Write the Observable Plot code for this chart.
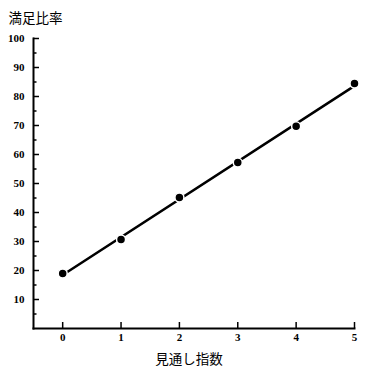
<!DOCTYPE html>
<html>
<head>
<meta charset="utf-8">
<script src="https://cdn.jsdelivr.net/npm/d3@7"></script>
<script src="https://cdn.jsdelivr.net/npm/@observablehq/plot@0.6"></script>
<style>
  html, body { margin: 0; padding: 0; background: #fff; }
</style>
</head>
<body>
<div id="chart"></div>
<script>
const xValues = [0, 1, 2, 3, 4, 5];
const yValues = [19.0, 30.7, 45.2, 57.2, 69.7, 84.5];
const xTicks = [0, 1, 2, 3, 4, 5];
const yTicks = [10, 20, 30, 40, 50, 60, 70, 80, 90, 100];
const yMinorTicks = [5, 15, 25, 35, 45, 55, 65, 75, 85, 95];
const xTitle = "見通し指数";
const yTitle = "満足比率";

const data = xValues.map((x, i) => ({x, y: yValues[i]}));
const tickFont = {fontFamily: "Liberation Serif", fontWeight: "bold", fontSize: 11};

const chart = Plot.plot({
  width: 381,
  height: 383,
  marginLeft: 33,
  marginRight: 27,
  marginTop: 38,
  marginBottom: 55,
  style: {background: "#fff", color: "#000"},
  x: {domain: [-0.5, 5]},
  y: {domain: [0, 100]},
  marks: [
    Plot.frame({anchor: "left", strokeWidth: 2}),
    Plot.frame({anchor: "bottom", strokeWidth: 2}),
    Plot.axisY({ticks: yTicks, tickSize: -6, text: null, label: null, strokeWidth: 1.5}),
    Plot.axisY({ticks: yMinorTicks, tickSize: -3.5, text: null, label: null, strokeWidth: 1.5}),
    Plot.axisY({ticks: yTicks, tickSize: 0, tickPadding: 9, label: null, ...tickFont}),
    Plot.axisX({ticks: xTicks, tickSize: -6, text: null, label: null, strokeWidth: 1.5}),
    Plot.axisX({ticks: xTicks, tickSize: 0, tickPadding: 5, label: null, tickFormat: d3.format("d"), ...tickFont}),
    Plot.linearRegressionY(data, {x: "x", y: "y", ci: 0, stroke: "#000", strokeWidth: 2.5}),
    Plot.dot(data, {x: "x", y: "y", r: 4.5, fill: "#000", stroke: "#fff", strokeWidth: 1.5}),
    Plot.text([yTitle], {frameAnchor: "top-left", dx: -25, dy: -20, textAnchor: "start", lineAnchor: "middle",
      fontFamily: "Noto Sans CJK JP", fontSize: 13.5, fill: "#000"}),
    Plot.text([xTitle], {frameAnchor: "bottom", dx: -5, dy: 31, lineAnchor: "middle",
      fontFamily: "Noto Sans CJK JP", fontSize: 13.5, fill: "#000"})
  ]
});
document.getElementById("chart").appendChild(chart);
</script>
</body>
</html>
